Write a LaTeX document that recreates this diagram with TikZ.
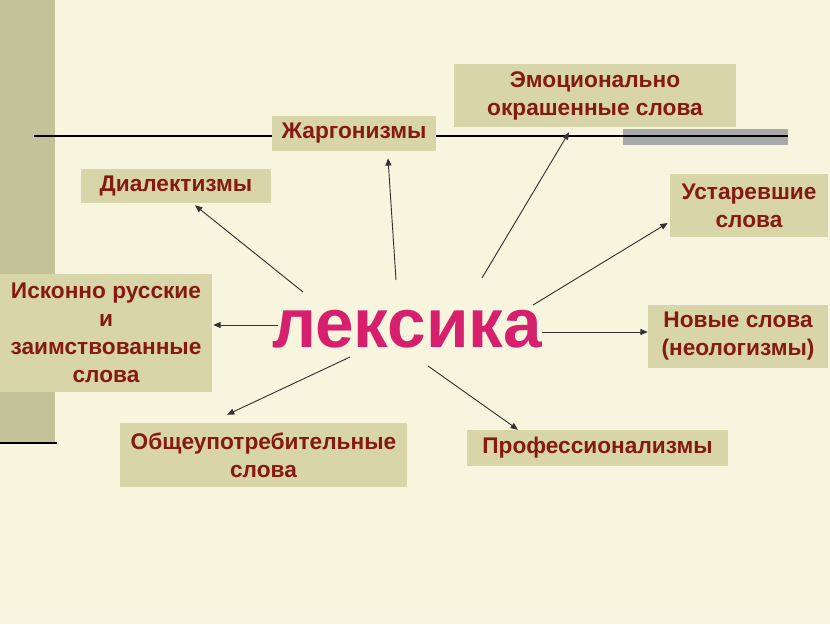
\documentclass[tikz,border=0pt]{standalone}
\usepackage{fontspec}
\setmainfont{Liberation Sans}
\usetikzlibrary{arrows.meta,calc}
\definecolor{bg}{HTML}{F7F5DD}
\definecolor{boxc}{HTML}{D8D5A8}
\definecolor{barc}{HTML}{C3C299}
\definecolor{txt}{HTML}{841A12}
\definecolor{pinkc}{HTML}{D6206E}
\definecolor{grayb}{HTML}{A9A9A9}
\begin{document}
\begin{tikzpicture}[x=0.75pt,y=-0.75pt,
  box/.style={fill=boxc, inner sep=0pt, font=\bfseries\fontsize{17}{21}\selectfont, text=txt, align=center},
  conn/.style={draw=black!80, line width=0.7pt, -{Triangle[length=5.5pt,width=4.5pt]}}]
\fill[bg] (0,0) rectangle (830,624);
\useasboundingbox (0,0) rectangle (830,624);
\fill[barc] (0,0) rectangle (55,442);
\draw[line width=2.2pt] (0,443) -- (57,443);
\fill[grayb] (623,129) rectangle (788,145);
\coordinate (L0) at (34,136);
\coordinate (L1) at (788,136);
\draw[line width=1.2pt] (L0) -- (L1);

\node[box, minimum width=123pt, minimum height=26.25pt] (jarg) at (354,133.5) {Жаргонизмы};
\node[box, minimum width=142.5pt, minimum height=25.5pt] (dial) at (176,186) {Диалектизмы};
\node[box, minimum width=211.5pt, minimum height=47.25pt] (emo) at (595,95.5) {Эмоционально\\окрашенные слова};
\node[box, minimum width=118.5pt, minimum height=47.25pt] (ust) at (749,205.5) {Устаревшие\\слова};
\node[box, minimum width=159pt, minimum height=88.5pt] (isk) at (106,333) {Исконно русские\\и\\заимствованные\\слова};
\node[box, minimum width=135pt, minimum height=47.25pt] (nov) at (738,336.5) {Новые слова\\(неологизмы)};
\node[box, minimum width=215.25pt, minimum height=48pt] (obs) at (263.5,455) {Общеупотребительные\\слова};
\node[box, minimum width=195.75pt, minimum height=27pt] (prof) at (597.5,448) {Профессионализмы};

\node[anchor=base, inner sep=0pt, text=pinkc, font=\bfseries\fontsize{52}{60}\selectfont] (lex) at (407,347) {лексика};

\coordinate (s1) at (396,280);
\coordinate (s2) at (303,292);
\coordinate (s3) at (482,278);
\coordinate (s4) at (533,305);
\coordinate (s5) at (278,325);
\coordinate (s6) at (542,332);
\coordinate (s7) at (350,357);
\coordinate (s8) at (428,366);

\draw[conn] (s1) -- ($(jarg.south)+(34,7)$);
\draw[conn] (s2) -- ($(dial.south)+(19,2)$);
\draw[conn] (s3) -- ($(emo.south)+(-26,5)$);
\draw[conn] (s4) -- ($(ust.west)+(-2,17.5)$);
\draw[conn] (s5) -- ($(isk.east)+(1,-8)$);
\draw[conn] (s6) -- ($(nov.west)+(0,-4.5)$);
\draw[conn] (s7) -- ($(obs.north)+(-36.5,-8)$);
\draw[conn] (s8) -- ($(prof.north)+(-79.5,0)$);
\end{tikzpicture}
\end{document}
